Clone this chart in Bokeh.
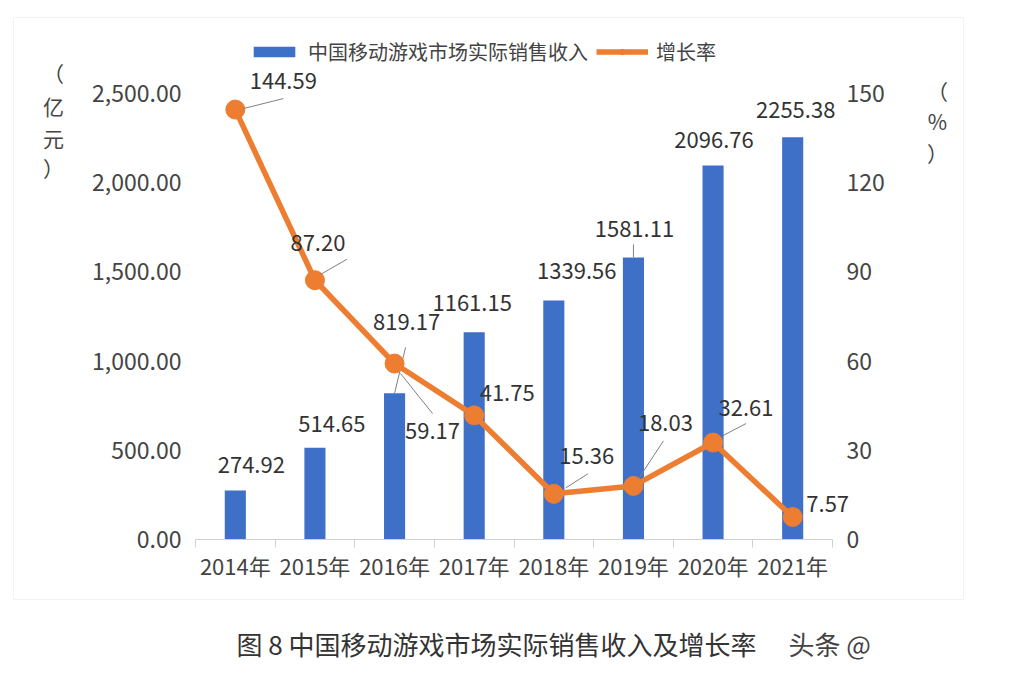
from bokeh.plotting import figure
from bokeh.models import (Range1d, LinearAxis, FixedTicker, NumeralTickFormatter,
                          ColumnDataSource, LabelSet, Label, Legend, LegendItem,
                          BoxAnnotation)
from bokeh.core.properties import value
from bokeh.embed import file_html
from bokeh.resources import INLINE

# ---------------- data ----------------
years = ["2014年", "2015年", "2016年", "2017年", "2018年", "2019年", "2020年", "2021年"]
revenue = [274.92, 514.65, 819.17, 1161.15, 1339.56, 1581.11, 2096.76, 2255.38]
growth = [144.59, 87.20, 59.17, 41.75, 15.36, 18.03, 32.61, 7.57]
left_ticks = [0, 500, 1000, 1500, 2000, 2500]
right_ticks = [0, 30, 60, 90, 120, 150]
bar_name = "中国移动游戏市场实际销售收入"
line_name = "增长率"
caption = "图 8 中国移动游戏市场实际销售收入及增长率"

# ---------------- layout / style ----------------
W, H = 1015, 675           # canvas (the whole canvas is the plotting frame)
PL, PB = 195, 539          # px of the category area's left edge and of the zero line
XPX = 79.625               # px per category
YPX = 446 / 2500           # px per revenue unit
PPX = 446 / 150            # px per percent unit

BLUE = "#3F70C8"
ORANGE = "#ED7D31"
TXT = "#333333"
AX = "#444444"
FONT = "Noto Sans CJK SC"

# label offsets in px (right, up) relative to data anchors
rev_dx = [16, 17, 12, -2, 23, 1, 1, 3]
rev_dy = [25, 24, 71, 29, 30, 28, 25, 27]
gr_dx = [48, 3, 38, 33, 33, 32, 33, 35]
gr_dy = [29, 37, -67, 22, 38, 63, 35, 13]
# leader lines: (index, series, x0, y0, x1, y1) px offsets
leaders = [
    (0, "gr", 8, 1, 48, 11),
    (1, "gr", 6, 6, 32, 21),
    (2, "gr", 6, -10, 38, -50),
    (4, "gr", 12, 6, 34, 20),
    (5, "gr", 5, 7, 30, 45),
    (6, "gr", 10, 7, 33, 19),
    (2, "rev", 0, 0, 11, 46),
    (5, "rev", 0, 0, 0, 13),
]

n = len(years)
x0r = -0.5 - PL / XPX
p = figure(width=W, height=H,
           x_range=Range1d(x0r, x0r + W / XPX),
           y_range=Range1d(-(H - PB) / YPX, PB / YPX),
           output_backend="svg", toolbar_location=None,
           x_axis_type=None, y_axis_type=None, min_border=0)
p.outline_line_color = None
p.background_fill_color = "white"
p.border_fill_color = "white"
p.extra_y_ranges = {"pct": Range1d(-(H - PB) / PPX, PB / PPX)}


def sx(px):
    return px


def sy(py):
    return H - py


xs = list(range(n))
src = ColumnDataSource(dict(
    x=xs, rev=revenue, gr=growth,
    rev_txt=[f"{v:.2f}" for v in revenue],
    gr_txt=[f"{v:.2f}" for v in growth],
    rev_dx=rev_dx, rev_dy=rev_dy, gr_dx=gr_dx, gr_dy=gr_dy,
))

# outer frame
p.add_layout(BoxAnnotation(left=sx(13), right=sx(963), bottom=sy(599), top=sy(17),
                           left_units="screen", right_units="screen",
                           bottom_units="screen", top_units="screen",
                           fill_color=None, fill_alpha=0, line_color="#D6D6D6", line_width=1,
                           level="underlay"))

# axes
xaxis = LinearAxis(ticker=FixedTicker(ticks=xs, minor_ticks=[i - 0.5 for i in range(n + 1)]),
                   major_label_overrides={i: y for i, y in enumerate(years)},
                   fixed_location=0, bounds=(-0.5, n - 0.5))
xaxis.axis_line_color = "#D0D0D0"
xaxis.major_tick_line_color = None
xaxis.major_tick_out = 0
xaxis.major_tick_in = 0
xaxis.minor_tick_line_color = "#D0D0D0"
xaxis.minor_tick_out = 8
xaxis.minor_tick_in = 0
xaxis.major_label_standoff = 1
xaxis.major_label_text_font = FONT
xaxis.major_label_text_font_size = "22px"
xaxis.major_label_text_color = AX
p.add_layout(xaxis, "below")

laxis = LinearAxis(ticker=FixedTicker(ticks=left_ticks), formatter=NumeralTickFormatter(format="0,0.00"),
                   fixed_location=-0.5)
raxis = LinearAxis(y_range_name="pct", ticker=FixedTicker(ticks=right_ticks), fixed_location=n - 0.5)
for ax in (laxis, raxis):
    ax.axis_line_color = None
    ax.major_tick_line_color = None
    ax.minor_tick_line_color = None
    ax.major_tick_out = 0
    ax.major_tick_in = 0
    ax.major_label_standoff = 14
    ax.major_label_text_font = FONT
    ax.major_label_text_font_size = "23px"
    ax.major_label_text_color = AX
p.add_layout(laxis, "left")
p.add_layout(raxis, "right")

# glyphs
bars = p.vbar(x="x", top="rev", width=0.265, source=src, fill_color=BLUE, line_color=None)

lx0, ly0, lx1, ly1, rx0, ry0, rx1, ry1 = [], [], [], [], [], [], [], []
for i, s, a, b, c, d in leaders:
    if s == "gr":
        lx0.append(xs[i] + a / XPX); ly0.append(growth[i] + b / PPX)
        lx1.append(xs[i] + c / XPX); ly1.append(growth[i] + d / PPX)
    else:
        rx0.append(xs[i] + a / XPX); ry0.append(revenue[i] + b / YPX)
        rx1.append(xs[i] + c / XPX); ry1.append(revenue[i] + d / YPX)

p.segment(x0=rx0, y0=ry0, x1=rx1, y1=ry1, line_color="#808080", line_width=1)

ln = p.line(x="x", y="gr", source=src, y_range_name="pct", line_color=ORANGE, line_width=5.5)
pts = p.scatter(x="x", y="gr", source=src, y_range_name="pct", marker="circle", size=19,
                fill_color=ORANGE, line_color=ORANGE)

p.segment(x0=lx0, y0=ly0, x1=lx1, y1=ly1, y_range_name="pct", line_color="#808080", line_width=1)

lab_kw = dict(text_align="center", text_baseline="middle", text_font=value(FONT),
              text_font_size="22px", text_color=TXT)
p.add_layout(LabelSet(x="x", y="rev", text="rev_txt", x_offset="rev_dx", y_offset="rev_dy",
                      source=src, **lab_kw))
p.add_layout(LabelSet(x="x", y="gr", text="gr_txt", x_offset="gr_dx", y_offset="gr_dy",
                      y_range_name="pct", source=src, **lab_kw))

# legend
legend = Legend(items=[LegendItem(label=bar_name, renderers=[bars]),
                       LegendItem(label=line_name, renderers=[ln, pts])],
                orientation="horizontal", location=(sx(248), sy(66)),
                glyph_width=52, glyph_height=13, label_standoff=8, spacing=8,
                padding=0, margin=0, border_line_color=None, background_fill_alpha=0,
                label_text_font=FONT, label_text_font_size="20px", label_text_color=AX)
p.add_layout(legend)

# axis titles (vertical stacked)
for ch, yy in zip(["（", "亿", "元", "）"], [72, 105, 137, 167]):
    p.add_layout(Label(x=sx(53), y=sy(yy), x_units="screen", y_units="screen", text=ch,
                       text_align="center", text_baseline="middle", text_font=FONT,
                       text_font_size="21px", text_color=AX))
for ch, yy in zip(["（", "%", "）"], [90, 120, 152]):
    p.add_layout(Label(x=sx(937), y=sy(yy), x_units="screen", y_units="screen", text=ch,
                       text_align="center", text_baseline="middle", text_font=FONT,
                       text_font_size="21px", text_color=AX))

# caption
p.add_layout(Label(x=sx(496), y=sy(643), x_units="screen", y_units="screen", text=caption,
                   text_align="center", text_baseline="middle", text_font=FONT,
                   text_font_size="26px", text_color="#333333"))
p.add_layout(Label(x=sx(788), y=sy(643), x_units="screen", y_units="screen", text="头条 @",
                   text_align="left", text_baseline="middle", text_font=FONT,
                   text_font_size="26px", text_color="#444444"))

open("out.html", "w").write(file_html(p, INLINE))
